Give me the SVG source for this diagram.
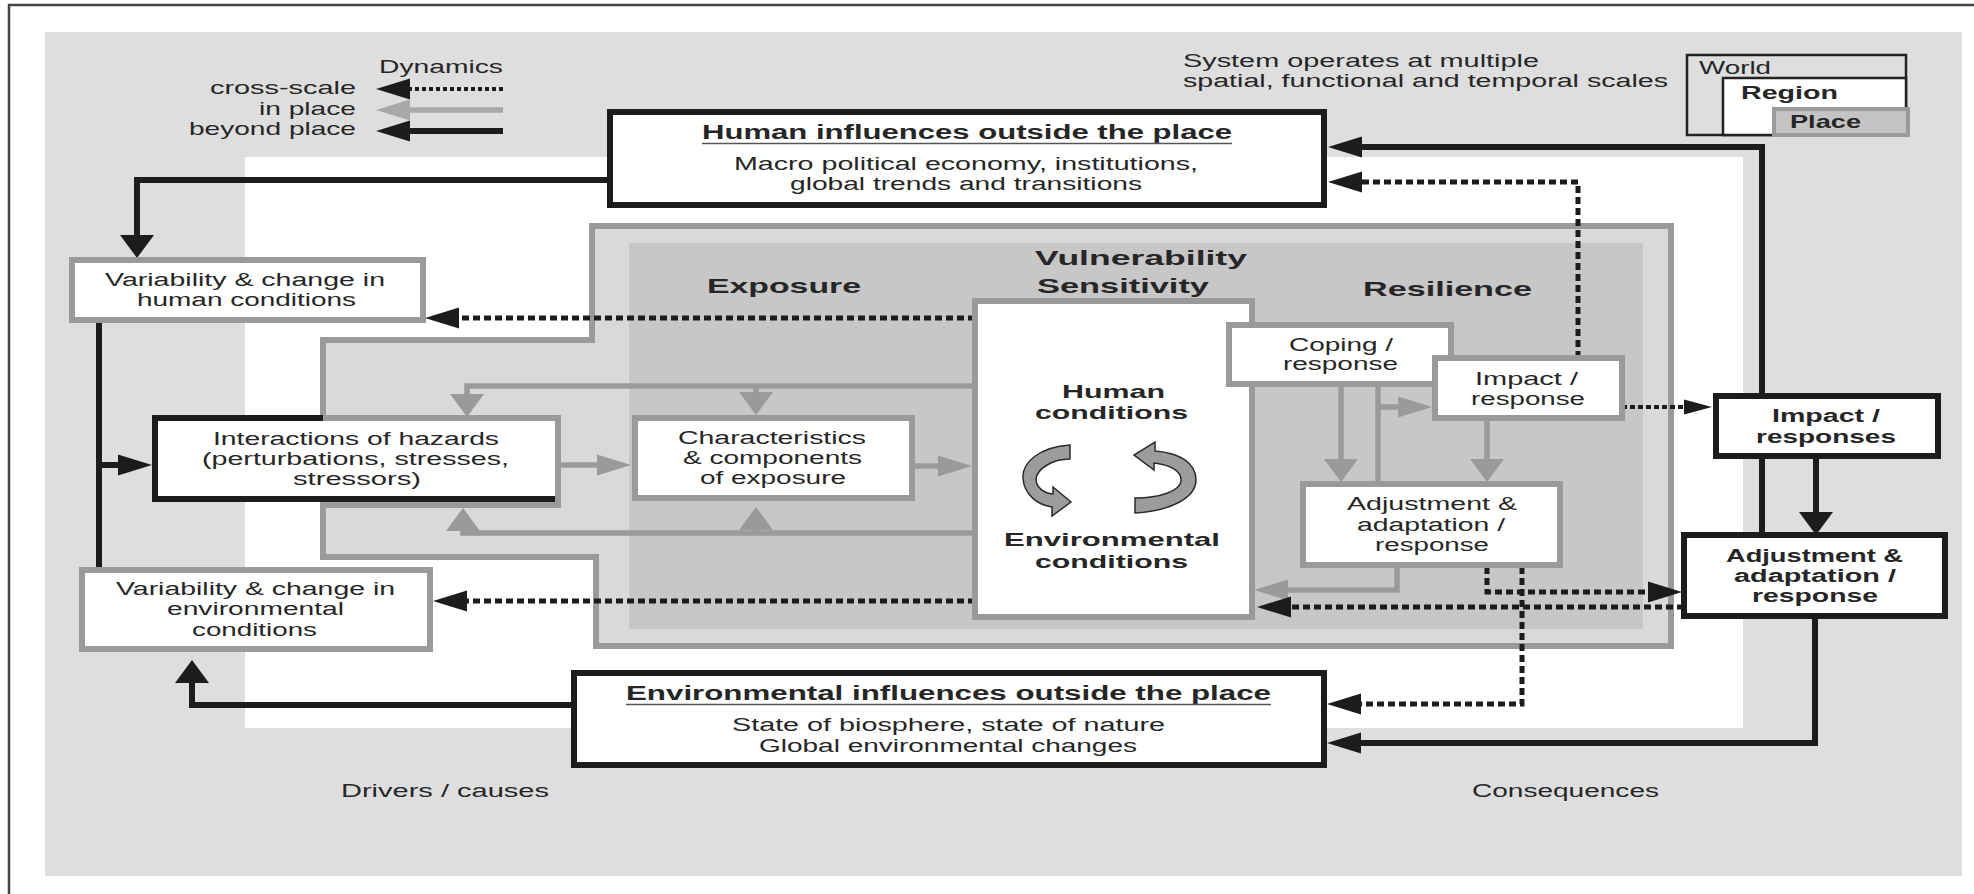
<svg xmlns="http://www.w3.org/2000/svg" xmlns:xlink="http://www.w3.org/1999/xlink" width="1974" height="894" viewBox="0 0 1974 894">
<style>
.t{font-family:"Liberation Sans",Arial,Helvetica,sans-serif;font-size:18px;fill:#262626}
.b{font-weight:bold}
.blk{fill:#1c1c1c}
.gry{fill:#9a9a9a}
.lb{fill:none;stroke:#1c1c1c;stroke-width:6}
.lg{fill:none;stroke:#9a9a9a;stroke-width:5.5}
.ld{fill:none;stroke:#1c1c1c;stroke-width:5;stroke-dasharray:7 4}
.bxk{fill:#fff;stroke:#1c1c1c;stroke-width:6}
.bxg{fill:#fff;stroke:#9a9a9a;stroke-width:6}
.ul{stroke:#555;stroke-width:1.6}
.curl{fill:#9c9c9c;stroke:#2a2a2a;stroke-width:1.5}
</style>
<defs>
<path id="hL" d="M0,0L34,-10.5L34,10.5Z"/>
<path id="hR" d="M0,0L-34,-10.5L-34,10.5Z"/>
<path id="hU" d="M0,0L-17,23L17,23Z"/>
<path id="hD" d="M0,0L-17,-23L17,-23Z"/>
<path id="hRs" d="M0,0L-28,-7.5L-28,7.5Z"/>
</defs>

<!-- backgrounds -->
<rect x="9" y="5" width="2000" height="1000" fill="#fff" stroke="#444" stroke-width="2.5"/>
<rect x="45" y="32" width="1917" height="844" fill="#dedede"/>
<rect x="245" y="157" width="1498" height="571" fill="#fff"/>
<path id="place-frame" d="M592,226 H1671 V646 H596 V557 H323 V505 H558 V418 H323 V340 H592 Z" fill="#d9d9d9" stroke="#9a9a9a" stroke-width="6"/>
<rect x="629" y="243" width="1014" height="386" fill="#c7c7c7"/>

<!-- legend -->
<g id="legend">
<text class="t" x="379" y="73" textLength="124" lengthAdjust="spacingAndGlyphs" style="font-size:19px">Dynamics</text>
<text class="t" x="210" y="94" textLength="146" lengthAdjust="spacingAndGlyphs" style="font-size:19px">cross-scale</text>
<text class="t" x="259" y="115" textLength="97" lengthAdjust="spacingAndGlyphs" style="font-size:19px">in place</text>
<text class="t" x="189" y="135" textLength="167" lengthAdjust="spacingAndGlyphs" style="font-size:19px">beyond place</text>
<path d="M503,89 H404" class="ld" style="stroke-width:4;stroke-dasharray:4 3"/>
<use xlink:href="#hL" x="376" y="89" class="blk"/>
<path d="M503,110 H405" class="lg" style="stroke:#a8a8a8"/>
<use xlink:href="#hL" x="376" y="110" style="fill:#a8a8a8"/>
<path d="M503,131 H405" class="lb"/>
<use xlink:href="#hL" x="376" y="131" class="blk"/>
</g>

<g id="scales-note">
<text class="t" x="1183" y="67" textLength="356" lengthAdjust="spacingAndGlyphs">System operates at multiple</text>
<text class="t" x="1183" y="87" textLength="485" lengthAdjust="spacingAndGlyphs">spatial, functional and temporal scales</text>
</g>
<g id="scale-inset">
<rect x="1687" y="55" width="219" height="80" fill="none" stroke="#222" stroke-width="2.5"/>
<text class="t" x="1699" y="74" textLength="72" lengthAdjust="spacingAndGlyphs" style="font-size:19px">World</text>
<rect x="1723" y="78" width="183" height="57" fill="#fff" stroke="#222" stroke-width="2.5"/>
<text class="t b" x="1741" y="99" textLength="97" lengthAdjust="spacingAndGlyphs" style="font-size:19px">Region</text>
<rect x="1774" y="109" width="134" height="26" fill="#c4c4c4" stroke="#9a9a9a" stroke-width="4"/>
<text class="t b" x="1790" y="128" textLength="71" lengthAdjust="spacingAndGlyphs" style="font-size:19px">Place</text>
</g>

<g id="section-labels">
<text class="t b" x="707" y="293" textLength="154" lengthAdjust="spacingAndGlyphs" style="font-size:21px">Exposure</text>
<text class="t b" x="1035" y="265" textLength="212" lengthAdjust="spacingAndGlyphs" style="font-size:21px">Vulnerability</text>
<text class="t b" x="1037" y="293" textLength="172" lengthAdjust="spacingAndGlyphs" style="font-size:21px">Sensitivity</text>
<text class="t b" x="1363" y="296" textLength="169" lengthAdjust="spacingAndGlyphs" style="font-size:21px">Resilience</text>
<text class="t" x="341" y="797" textLength="208" lengthAdjust="spacingAndGlyphs">Drivers / causes</text>
<text class="t" x="1472" y="797" textLength="187" lengthAdjust="spacingAndGlyphs">Consequences</text>
</g>

<!-- connectors -->
<g id="connectors">
<!-- beyond place (black) -->
<path d="M610,180 H137 V236" class="lb"/><use xlink:href="#hD" x="137" y="258" class="blk"/>
<path d="M99,320 V567" class="lb"/>
<path d="M99,465 H120" class="lb"/><use xlink:href="#hR" x="152" y="465" class="blk"/>
<path d="M574,705 H192 V682" class="lb"/><use xlink:href="#hU" x="192" y="660" class="blk"/>
<path d="M1762,535 V147 H1360" class="lb"/><use xlink:href="#hL" x="1328" y="147" class="blk"/>
<path d="M1816,456 V513" class="lb"/><use xlink:href="#hD" x="1816" y="535" class="blk"/>
<path d="M1815,616 V743 H1360" class="lb"/><use xlink:href="#hL" x="1327" y="743" class="blk"/>
<!-- in place (grey) -->
<path d="M975,386 H467 V397" class="lg"/><use xlink:href="#hD" x="467" y="417" class="gry"/>
<path d="M756,386 V395" class="lg"/><use xlink:href="#hD" x="756" y="415" class="gry"/>
<path d="M975,533 H463 V528" class="lg"/><use xlink:href="#hU" x="463" y="508" class="gry"/>
<path d="M756,533 V527" class="lg"/><use xlink:href="#hU" x="756" y="507" class="gry"/>
<path d="M558,465 H600" class="lg"/><use xlink:href="#hR" x="631" y="465" class="gry"/>
<path d="M912,466 H945" class="lg"/><use xlink:href="#hR" x="972" y="466" class="gry"/>
<path d="M1341,384 V462" class="lg"/><use xlink:href="#hD" x="1341" y="482" class="gry"/>
<path d="M1378,484 V384" class="lg"/>
<path d="M1378,407 H1400" class="lg"/><use xlink:href="#hR" x="1432" y="407" class="gry"/>
<path d="M1487,418 V462" class="lg"/><use xlink:href="#hD" x="1487" y="482" class="gry"/>
<path d="M1397,566 V590 H1285" class="lg"/><use xlink:href="#hL" x="1254" y="590" class="gry"/>
<!-- cross-scale (dotted) -->
<path d="M975,318 H457" class="ld"/><use xlink:href="#hL" x="425" y="318" class="blk"/>
<path d="M975,601 H465" class="ld"/><use xlink:href="#hL" x="433" y="601" class="blk"/>
<path d="M1684,607 H1289" class="ld"/><use xlink:href="#hL" x="1257" y="607" class="blk"/>
<path d="M1487,567 V592 H1650" class="ld"/><use xlink:href="#hR" x="1682" y="592" class="blk"/>
<path d="M1522,567 V704 H1359" class="ld"/><use xlink:href="#hL" x="1327" y="704" class="blk"/>
<path d="M1578,358 V182 H1360" class="ld"/><use xlink:href="#hL" x="1328" y="182" class="blk"/>
<path d="M1622,407 H1686" class="ld" style="stroke-width:4;stroke-dasharray:5 3"/><use xlink:href="#hRs" x="1712" y="407" class="blk"/>
</g>

<!-- nodes -->
<g id="human-influences">
<rect x="610" y="112" width="714" height="93" class="bxk"/>
<text class="t b" x="702" y="139" textLength="530" lengthAdjust="spacingAndGlyphs" style="font-size:20px">Human influences outside the place</text>
<line x1="702" y1="143.5" x2="1232" y2="143.5" class="ul"/>
<text class="t" x="734" y="170" textLength="464" lengthAdjust="spacingAndGlyphs">Macro political economy, institutions,</text>
<text class="t" x="790" y="190" textLength="352" lengthAdjust="spacingAndGlyphs">global trends and transitions</text>
</g>

<g id="var-human">
<rect x="72" y="260" width="351" height="60" class="bxg"/>
<text class="t" x="105" y="286" textLength="280" lengthAdjust="spacingAndGlyphs">Variability &amp; change in</text>
<text class="t" x="137" y="306" textLength="219" lengthAdjust="spacingAndGlyphs">human conditions</text>
</g>

<g id="interactions">
<rect x="155" y="418" width="403" height="81" class="bxk"/>
<path d="M323,418 H558 V505 H323" fill="none" stroke="#9a9a9a" stroke-width="6"/>
<text class="t" x="213" y="445" textLength="286" lengthAdjust="spacingAndGlyphs">Interactions of hazards</text>
<text class="t" x="202" y="465" textLength="307" lengthAdjust="spacingAndGlyphs">(perturbations, stresses,</text>
<text class="t" x="293" y="485" textLength="128" lengthAdjust="spacingAndGlyphs">stressors)</text>
</g>

<g id="var-env">
<rect x="82" y="570" width="348" height="79" class="bxg"/>
<text class="t" x="116" y="595" textLength="279" lengthAdjust="spacingAndGlyphs">Variability &amp; change in</text>
<text class="t" x="167" y="615" textLength="177" lengthAdjust="spacingAndGlyphs">environmental</text>
<text class="t" x="192" y="636" textLength="125" lengthAdjust="spacingAndGlyphs">conditions</text>
</g>

<g id="characteristics">
<rect x="635" y="418" width="277" height="80" class="bxg"/>
<text class="t" x="678" y="444" textLength="188" lengthAdjust="spacingAndGlyphs">Characteristics</text>
<text class="t" x="683" y="464" textLength="179" lengthAdjust="spacingAndGlyphs">&amp; components</text>
<text class="t" x="700" y="484" textLength="146" lengthAdjust="spacingAndGlyphs">of exposure</text>
</g>

<g id="conditions">
<rect x="975" y="301" width="277" height="316" class="bxg"/>
<text class="t b" x="1062" y="398" textLength="103" lengthAdjust="spacingAndGlyphs" style="font-size:19px">Human</text>
<text class="t b" x="1035" y="419" textLength="153" lengthAdjust="spacingAndGlyphs" style="font-size:19px">conditions</text>
<path class="curl" d="M1070,445 C1040,447 1022,462 1023,478 C1024,495 1038,505 1052,507 L1052,516 L1071,502 L1053,487 L1053,494 C1043,493 1036,487 1036,479 C1037,469 1052,459 1070,459 Z"/>
<path class="curl" d="M1135,513 C1170,511 1196,498 1196,480 C1196,463 1180,453 1155,451 L1155,442 L1134,455 L1154,470 L1154,463 C1172,465 1182,472 1181,481 C1180,491 1160,498 1135,498 Z"/>
<text class="t b" x="1004" y="546" textLength="216" lengthAdjust="spacingAndGlyphs" style="font-size:19px">Environmental</text>
<text class="t b" x="1035" y="568" textLength="153" lengthAdjust="spacingAndGlyphs" style="font-size:19px">conditions</text>
</g>

<g id="coping">
<rect x="1229" y="325" width="222" height="59" class="bxg"/>
<text class="t" x="1289" y="351" textLength="104" lengthAdjust="spacingAndGlyphs">Coping /</text>
<text class="t" x="1283" y="370" textLength="115" lengthAdjust="spacingAndGlyphs">response</text>
</g>

<g id="impact-inner">
<rect x="1435" y="358" width="187" height="60" class="bxg"/>
<text class="t" x="1475" y="385" textLength="103" lengthAdjust="spacingAndGlyphs">Impact /</text>
<text class="t" x="1471" y="405" textLength="114" lengthAdjust="spacingAndGlyphs">response</text>
</g>

<g id="adjust-inner">
<rect x="1303" y="484" width="257" height="81" class="bxg"/>
<text class="t" x="1347" y="510" textLength="170" lengthAdjust="spacingAndGlyphs">Adjustment &amp;</text>
<text class="t" x="1357" y="531" textLength="148" lengthAdjust="spacingAndGlyphs">adaptation /</text>
<text class="t" x="1375" y="551" textLength="114" lengthAdjust="spacingAndGlyphs">response</text>
</g>

<g id="impact-outer">
<rect x="1716" y="396" width="222" height="60" class="bxk"/>
<text class="t b" x="1772" y="422" textLength="108" lengthAdjust="spacingAndGlyphs">Impact /</text>
<text class="t b" x="1756" y="443" textLength="140" lengthAdjust="spacingAndGlyphs">responses</text>
</g>

<g id="adjust-outer">
<rect x="1684" y="535" width="261" height="81" class="bxk"/>
<text class="t b" x="1726" y="562" textLength="177" lengthAdjust="spacingAndGlyphs">Adjustment &amp;</text>
<text class="t b" x="1734" y="582" textLength="162" lengthAdjust="spacingAndGlyphs">adaptation /</text>
<text class="t b" x="1752" y="602" textLength="126" lengthAdjust="spacingAndGlyphs">response</text>
</g>

<g id="env-influences">
<rect x="574" y="673" width="750" height="92" class="bxk"/>
<text class="t b" x="626" y="700" textLength="645" lengthAdjust="spacingAndGlyphs" style="font-size:20px">Environmental influences outside the place</text>
<line x1="626" y1="704.5" x2="1271" y2="704.5" class="ul"/>
<text class="t" x="732" y="731" textLength="433" lengthAdjust="spacingAndGlyphs">State of biosphere, state of nature</text>
<text class="t" x="759" y="752" textLength="378" lengthAdjust="spacingAndGlyphs">Global environmental changes</text>
</g>
</svg>
